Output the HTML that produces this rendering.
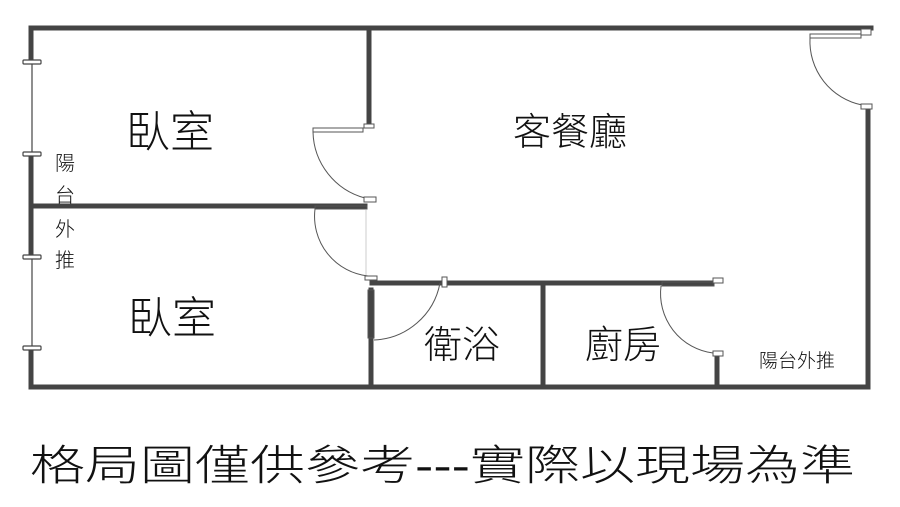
<!DOCTYPE html>
<html><head><meta charset="utf-8"><style>
html,body{margin:0;padding:0;background:#fff;width:900px;height:507px;overflow:hidden}
svg{display:block}
text{font-family:"Liberation Sans","Noto Sans CJK TC","WenQuanYi Zen Hei",sans-serif;fill:#111;font-weight:300}
</style></head><body>
<svg width="900" height="507" viewBox="0 0 900 507">
<g stroke="#444" stroke-width="5" fill="none" stroke-linecap="square">
<line x1="31" y1="28" x2="871" y2="28"/>
<line x1="31" y1="28" x2="31" y2="387"/>
<line x1="31" y1="387" x2="868" y2="387"/>
<line x1="868" y1="108" x2="868" y2="387"/>
<line x1="369" y1="28" x2="369" y2="122"/>
<line x1="33" y1="206" x2="365" y2="206"/>
<line x1="371" y1="290" x2="371" y2="387"/>
<line x1="372" y1="283" x2="712" y2="283"/>
<line x1="543" y1="283" x2="543" y2="387"/>
<line x1="717" y1="358" x2="717" y2="387"/>
</g>
<line x1="31" y1="64" x2="31" y2="152" stroke="#fff" stroke-width="7"/>
<line x1="31" y1="259" x2="31" y2="346" stroke="#fff" stroke-width="7"/>
<line x1="32" y1="64" x2="32" y2="152" stroke="#444" stroke-width="1.2"/>
<line x1="32" y1="259" x2="32" y2="346" stroke="#444" stroke-width="1.2"/>
<g fill="#fff" stroke="#444" stroke-width="1.2">
<rect x="23" y="60" width="18" height="4" rx="1"/>
<rect x="23" y="152" width="18" height="4" rx="1"/>
<rect x="23" y="255" width="18" height="4" rx="1"/>
<rect x="23" y="346" width="18" height="4" rx="1"/>
</g>
<g fill="none" stroke="#555" stroke-width="1">
<rect x="313" y="128" width="50" height="4"/>
<rect x="364" y="124" width="10" height="4" fill="#fff"/>
<path d="M313 132 A70 70 0 0 0 365 198"/>
<rect x="364" y="197" width="12" height="5" fill="#fff"/>
<rect x="315" y="206" width="52" height="3"/>
<path d="M315 209 A60 60 0 0 0 368 276"/>
<line x1="366" y1="210" x2="366" y2="275" stroke="#ccc"/>
<rect x="365" y="276" width="12" height="4" fill="#fff"/>
<rect x="368" y="290" width="6" height="48"/>
<path d="M374 340 A70 70 0 0 0 440 283"/>
<rect x="442" y="277" width="5" height="10" fill="#fff"/>
<rect x="662" y="282" width="52" height="4"/>
<rect x="713" y="278" width="10" height="5" fill="#fff"/>
<path d="M661 286 A60 60 0 0 0 713 353"/>
<rect x="713" y="351" width="10" height="5" fill="#fff"/>
<rect x="810" y="34" width="51" height="4"/>
<rect x="861" y="29" width="10" height="6" fill="#fff"/>
<path d="M810 38 A65 65 0 0 0 862 105"/>
<rect x="861" y="104" width="11" height="5" fill="#fff"/>
</g>
<text x="170" y="147" font-size="44" text-anchor="middle">臥室</text>
<text x="172" y="333" font-size="44" text-anchor="middle">臥室</text>
<text x="570" y="145" font-size="38" text-anchor="middle">客餐廳</text>
<text x="462" y="358" font-size="38" text-anchor="middle">衛浴</text>
<text x="623" y="358" font-size="38" text-anchor="middle">廚房</text>
<text x="797" y="367" font-size="19" text-anchor="middle">陽台外推</text>
<g font-size="20" text-anchor="middle">
<text x="65" y="170">陽</text>
<text x="65" y="202">台</text>
<text x="65" y="236">外</text>
<text x="65" y="267">推</text>
</g>
<text x="30" y="480" font-size="42" textLength="825" lengthAdjust="spacingAndGlyphs">格局圖僅供參考---實際以現場為準</text>
</svg>
</body></html>
